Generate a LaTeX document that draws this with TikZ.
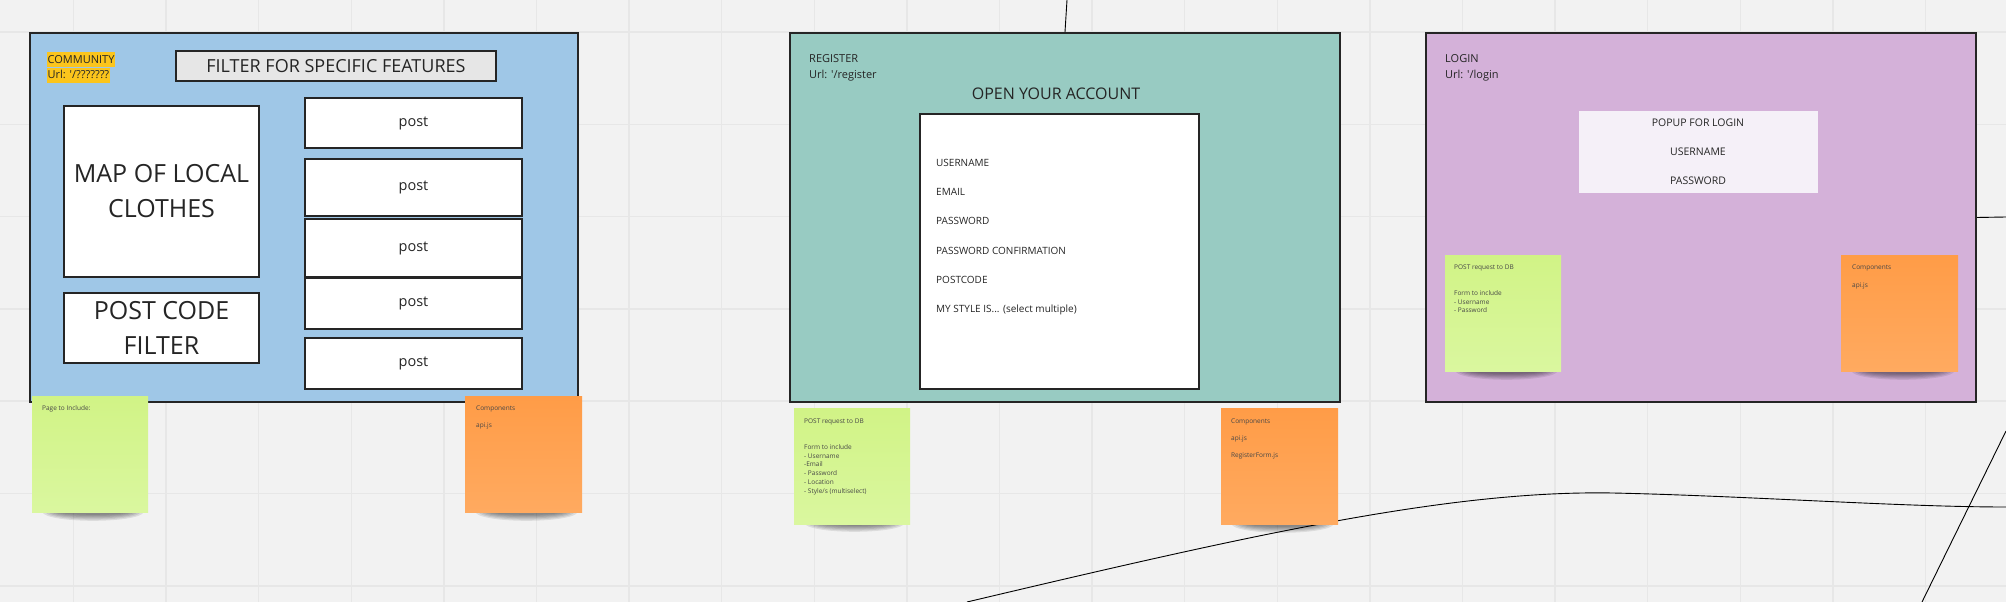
\documentclass[tikz,border=0pt]{standalone}
\usepackage{fontspec}
\setmainfont{Open Sans}[Ligatures=TeXOff]

\definecolor{board}{HTML}{F2F2F2}
\definecolor{gridline}{HTML}{E7E7E7}
\definecolor{comblue}{HTML}{9FC7E7}
\definecolor{regteal}{HTML}{98CBC2}
\definecolor{loglilac}{HTML}{D4B1D9}
\definecolor{filtergray}{HTML}{E6E6E6}
\definecolor{marker}{HTML}{FBC51C}
\definecolor{popupwhite}{HTML}{F5F0F8}
\definecolor{notegreenA}{HTML}{D1F386}
\definecolor{notegreenB}{HTML}{DAF79F}
\definecolor{noteorangeA}{HTML}{FF9C47}
\definecolor{noteorangeB}{HTML}{FFAA60}
\definecolor{ink}{HTML}{252525}

% soft shadow under a sticky note: left, right, bottom
\newcommand{\noteshadow}[3]{%
  \foreach \k in {1,...,6}
    \fill[black, opacity=0.09] ({(#1+#2)/2+3},#3) ellipse [x radius={(#2-#1)*0.46-\k*3}, y radius={10-\k*1.2}];}

\begin{document}
\begin{tikzpicture}[x=1pt,y=-1pt,
  pageframe/.style={draw=ink, line width=2pt, minimum width=550pt, minimum height=369pt, inner sep=0pt},
  mockbox/.style={draw=ink, fill=white, line width=1.8pt, inner sep=0pt, align=center, text=ink},
  frametitle/.style={anchor=north west, align=left, inner sep=0pt, text=ink, font=\fontsize{11}{16}\selectfont},
  formfield/.style={anchor=base west, inner sep=0pt, text=ink, font=\fontsize{10}{12}\selectfont},
  greennote/.style={top color=notegreenA, bottom color=notegreenB, minimum width=116pt, minimum height=116pt, anchor=north west, inner sep=0pt},
  orangenote/.style={top color=noteorangeA, bottom color=noteorangeB, minimum width=117pt, minimum height=116pt, anchor=north west, inner sep=0pt},
  notetext/.style={anchor=north west, align=left, inner sep=0pt, text=ink!85, font=\fontsize{6.5}{8.7}\selectfont},
  wire/.style={draw=black, line width=0.9pt}
]
\useasboundingbox (0,0) rectangle (2006,602);
\fill[board] (0,0) rectangle (2006,602);

% board grid
\foreach \gx in {0,...,20}
  \draw[gridline, line width=1.5pt] ({73.5+92.6*\gx},0) -- ({73.5+92.6*\gx},602);
\foreach \gy in {0,...,6}
  \draw[gridline, line width=1.5pt] (0,{32+92.3*\gy}) -- (2006,{32+92.3*\gy});

% page frames
\node[pageframe, fill=comblue, minimum width=548pt] (comFrame) at (304,217.5) {};
\node[pageframe, fill=regteal] (regFrame) at (1065,217.5) {};
\node[pageframe, fill=loglilac] (logFrame) at (1701,217.5) {};

% community page
\node[frametitle, fill=marker, inner xsep=0.5pt, inner ysep=1pt, text height=10pt, text depth=3pt] (comName) at (47,52) {COMMUNITY};
\node[frametitle, fill=marker, inner xsep=0.5pt, inner ysep=1pt, text height=10pt, text depth=3pt] (comUrl) at (comName.south west) {Url: '/???????};
\node[mockbox, fill=filtergray, minimum width=320pt, minimum height=30pt, font=\fontsize{18}{18}\selectfont] (filterBox) at (336,66) {FILTER FOR SPECIFIC FEATURES};
\node[mockbox, minimum width=195pt, minimum height=171pt, font=\fontsize{25}{35}\selectfont] (mapBox) at (161.5,191.5) {MAP OF LOCAL\\CLOTHES};
\node[mockbox, minimum width=195pt, minimum height=70pt, font=\fontsize{25}{35}\selectfont] (codeBox) at (161.5,328) {POST CODE\\FILTER};
\foreach \py/\ph [count=\i] in {123/50,187.5/57,248/58,303.5/51,363.5/51}
  \node[mockbox, minimum width=217pt, minimum height=\ph pt, font=\fontsize{14.5}{14.5}\selectfont] (post\i) at (413.5,\py) {post};

% register page
\node[frametitle] (regName) at (809,54) {REGISTER\\Url: '/register};
\node[text=ink, font=\fontsize{16}{16}\selectfont] (regHead) at (1056,94) {OPEN YOUR ACCOUNT};
\node[mockbox, minimum width=279pt, minimum height=275pt] (regForm) at (1059.5,251.5) {};
\foreach \fy/\ft [count=\i] in {166/USERNAME, 195/EMAIL, 224/PASSWORD, 254/PASSWORD CONFIRMATION, 283/POSTCODE, 312/{MY STYLE IS... (select multiple)}}
  \node[formfield] (field\i) at (936,\fy) {\ft};

% login page
\node[frametitle] (logName) at (1445,54) {LOGIN\\Url: '/login};
\node[fill=popupwhite, minimum width=239pt, minimum height=82pt, inner sep=0pt] (popup) at (1698.5,152) {};
\foreach \ly/\lt [count=\i] in {123/POPUP FOR LOGIN, 152/USERNAME, 181/PASSWORD}
  \node[text=ink, font=\fontsize{10.5}{10.5}\selectfont] (popLine\i) at (1698,\ly) {\lt};

% connectors
\coordinate (topEnd) at (1067,0);
\draw[wire] (topEnd) -- (regFrame.north);
\coordinate (sideEnd) at (2006,217);
\draw[wire] (logFrame.east) -- (sideEnd);
\coordinate (curveStart) at (967,602);
\coordinate (curveEnd) at (2006,507);
\draw[wire] (curveStart) .. controls (1250,535) and (1450,490) .. (1613,493) .. controls (1750,496) and (1900,507) .. (curveEnd);
\coordinate (slopeTop) at (2006,431);
\coordinate (slopeFoot) at (1922,602);
\draw[wire] (slopeTop) -- (slopeFoot);

% sticky notes
\noteshadow{32}{148}{512}
\noteshadow{465}{582}{512}
\noteshadow{794}{909}{523}
\noteshadow{1221}{1338}{524}
\noteshadow{1445}{1562}{371}
\noteshadow{1841}{1959}{371}
\node[greennote] (comPage) at (32,396) {};
\node[orangenote] (comParts) at (465,396) {};
\node[greennote] (regPost) at (794,408) {};
\node[orangenote] (regParts) at (1221,408) {};
\node[greennote] (logPost) at (1445,255) {};
\node[orangenote] (logParts) at (1841,255) {};

\node[notetext] (comPageText) at (42,405.5) {Page to Include:};
\node[notetext] (comPartsText) at (476,405.5) {Components\\[8.3pt]api.js};
\node[notetext] (regPostText) at (804,418.5) {POST request to DB\\[17.4pt]Form to include\\- Username\\-Email\\- Password\\- Location\\- Style/s (multiselect)};
\node[notetext] (regPartsText) at (1231,418.5) {Components\\[8.3pt]api.js\\[8.3pt]RegisterForm.js};
\node[notetext] (logPostText) at (1454,264.5) {POST request to DB\\[17.4pt]Form to include\\- Username\\- Password};
\node[notetext] (logPartsText) at (1852,264.5) {Components\\[9pt]api.js};
\end{tikzpicture}
\end{document}
